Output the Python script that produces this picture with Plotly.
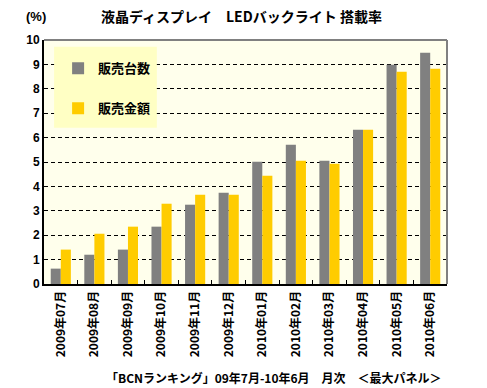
import plotly.graph_objects as go

categories = ["2009年07月", "2009年08月", "2009年09月", "2009年10月", "2009年11月", "2009年12月",
              "2010年01月", "2010年02月", "2010年03月", "2010年04月", "2010年05月", "2010年06月"]
units = [0.63, 1.20, 1.41, 2.35, 3.25, 3.74, 5.01, 5.71, 5.05, 6.32, 8.99, 9.48]
amount = [1.41, 2.06, 2.35, 3.29, 3.66, 3.66, 4.44, 5.05, 4.93, 6.32, 8.70, 8.82]
series_names = ["販売台数", "販売金額"]
yticks = list(range(0, 11))

FONT = "Liberation Sans, Noto Sans CJK JP, sans-serif"
JP = "Noto Sans CJK JP, sans-serif"

fig = go.Figure()
fig.add_trace(go.Bar(x=categories, y=units, name=series_names[0], marker_color="#808080",
                     marker_line_width=0, legendgroup="a"))
fig.add_trace(go.Bar(x=categories, y=amount, name=series_names[1], marker_color="#FFCC00",
                     marker_line_width=0, legendgroup="b"))

fig.update_layout(
    width=487, height=388,
    margin=dict(l=44, r=40, t=40, b=104),
    paper_bgcolor="white",
    plot_bgcolor="#FFFFEC",
    barmode="group",
    bargap=0.4,
    bargroupgap=0,
    showlegend=True,
    legend=dict(
        x=0.035, y=0.945, xanchor="left", yanchor="top",
        bgcolor="rgba(0,0,0,0)",
        font=dict(family=JP, size=13, color="black", weight="bold"),
        tracegroupgap=20,
        itemwidth=30,
    ),
    xaxis=dict(
        type="category",
        tickangle=-90,
        tickfont=dict(family=JP, size=12, color="black", weight="bold"),
        showline=True, linecolor="black", linewidth=2,
        ticks="inside", ticklen=4, tickcolor="black", tickson="boundaries",
        showgrid=False,
    ),
    yaxis=dict(
        range=[0, 10],
        tickvals=yticks,
        tickfont=dict(family=FONT, size=12, color="black", weight="bold"),
        showline=True, linecolor="black", linewidth=2,
        showgrid=True, gridcolor="black", griddash="4px,3px", gridwidth=1,
        ticks="", zeroline=False,
    ),
    shapes=[
        dict(type="rect", xref="paper", yref="paper", x0=0.025, x1=0.28, y0=0.64, y1=0.972,
             fillcolor="#FFFFC4", line=dict(width=0), layer="above"),
        dict(type="line", xref="paper", yref="paper", x0=0, x1=1, y0=1, y1=1,
             line=dict(color="#808080", width=2), layer="above"),
        dict(type="line", xref="paper", yref="paper", x0=1, x1=1, y0=0, y1=1,
             line=dict(color="#808080", width=2), layer="above"),
    ],
    annotations=[
        dict(text="液晶ディスプレイ　LEDバックライト 搭載率", xref="paper", yref="paper",
             x=0.49, y=1.0, yshift=24, xanchor="center", yanchor="middle", showarrow=False,
             font=dict(family=JP, size=14, color="black", weight="bold")),
        dict(text="(%)", xref="paper", yref="paper", x=-0.02, y=1.0, yshift=24,
             xanchor="center", yanchor="middle", showarrow=False,
             font=dict(family=FONT, size=13, color="black", weight="bold")),
        dict(text="「BCNランキング」09年7月-10年6月　月次　＜最大パネル＞", xref="paper", yref="paper",
             x=0.57, y=0, yshift=-93, xanchor="center", yanchor="middle", showarrow=False,
             font=dict(family=JP, size=12, color="black", weight="bold")),
    ],
)

fig.write_html("out.html", config={"displayModeBar": False},
               post_script="document.body.style.margin='0';document.body.style.padding='0';")
